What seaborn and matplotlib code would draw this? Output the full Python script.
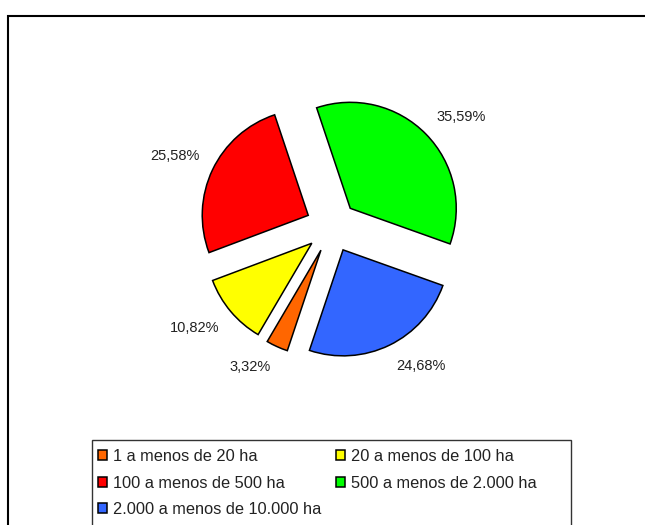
import matplotlib
matplotlib.use("Agg")
import matplotlib.pyplot as plt
from matplotlib.patches import Rectangle
import seaborn as sns

# data (legend order, drawn clockwise)
categories = ["1 a menos de 20 ha", "20 a menos de 100 ha", "100 a menos de 500 ha",
              "500 a menos de 2.000 ha", "2.000 a menos de 10.000 ha"]
shares = [3.32, 10.82, 25.58, 35.59, 24.68]
colors = ["#FF6600", "#FFFF00", "#FF0000", "#00FF00", "#3366FF"]

sns.set_style("white")
plt.rcParams["font.family"] = ["Liberation Sans", "DejaVu Sans"]

fig = plt.figure(figsize=(6.45, 5.25), dpi=100)
fig.patch.set_facecolor("white")

# pie axes: center ~ (332, 226) px, radius ~106 px
W, H = 645, 525
r_px = 106
side = 3 * r_px
cx, cy = 331.7, H - 226.5
ax = fig.add_axes([(cx - side / 2) / W, (cy - side / 2) / H, side / W, side / H])

pct_labels = [f"{v:.2f}%".replace(".", ",") for v in shares]

wedges, texts = ax.pie(
    shares, colors=colors, explode=[0.245] * len(shares),
    startangle=251.5, counterclock=False,
    labels=pct_labels, labeldistance=1.14,
    wedgeprops=dict(edgecolor="black", linewidth=1.1),
    textprops=dict(fontsize=10.5, color="#222222"),
)
# outside-end style: anchor the box corner nearest to the wedge
for t in texts:
    t.set_va("bottom" if t.get_position()[1] > 0 else "top")

ax.set_xlim(-1.5, 1.5)
ax.set_ylim(-1.5, 1.5)
ax.set_aspect("equal")
ax.axis("off")

# legend, row-major order in 2 columns
order = [0, 2, 4, 1, 3]
leg = fig.legend([wedges[i] for i in order], [categories[i] for i in order],
                 loc="upper left", bbox_to_anchor=(92 / W, 1 - 443 / H),
                 ncol=2, fontsize=11.8, frameon=False,
                 handlelength=0.55, handleheight=0.55, handletextpad=0.38,
                 labelspacing=0.69, columnspacing=0.85, borderpad=0.38,
                 borderaxespad=0.0)
for t in leg.get_texts():
    t.set_color("#222222")

# legend box (runs past the bottom edge, as in the source)
fig.add_artist(Rectangle((92 / W, -0.1), (571 - 92) / W, 1 - 440 / H + 0.1,
                         transform=fig.transFigure, fill=False,
                         edgecolor="#333333", linewidth=1.0))

# outer chart border
fig.add_artist(Rectangle((7.5 / W, -0.1), 1.2, 1 - 16 / H + 0.1,
                         transform=fig.transFigure, fill=False,
                         edgecolor="black", linewidth=1.5))

fig.savefig("out.png", dpi=100)
